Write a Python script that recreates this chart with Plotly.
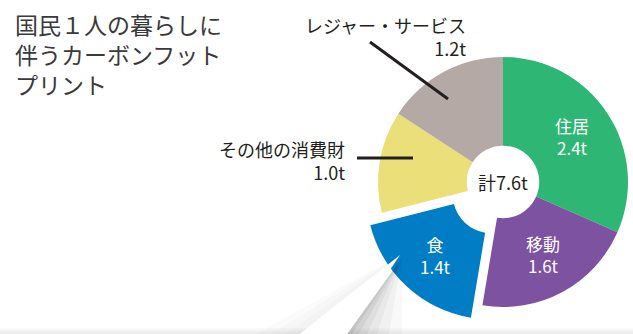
import numpy as np
import plotly.graph_objects as go

# ---- data ----
categories = ["住居", "移動", "食", "その他の消費財", "レジャー・サービス"]
values = [2.4, 1.6, 1.4, 1.0, 1.2]
unit = "t"
pulled_category = "食"
inside_labels = ["住居", "移動", "食"]
outside_labels = ["その他の消費財", "レジャー・サービス"]
title_lines = ["国民１人の暮らしに", "伴うカーボンフット", "プリント"]

# ---- styles ----
colors = ["#2eb774", "#7d52a1", "#007dc5", "#ebdf79", "#b5a9a6"]
W, H = 633, 334
CX, CY, R = 503, 182, 125
PULL_PX = 17
FONT = "Noto Sans CJK JP"
DARK = "#231f20"

total = sum(values)
fracs = np.array(values) / total
ends = np.cumsum(fracs) * 360
starts = ends - fracs * 360
mids = (starts + ends) / 2
idx_p = categories.index(pulled_category)


def domain(cx, cy):
    return dict(x=[(cx - R) / W, (cx + R) / W], y=[(H - cy - R) / H, (H - cy + R) / H])


def pol(cx, cy, r, ang):
    a = np.radians(ang)
    return cx + r * np.sin(a), cy - r * np.cos(a)


pcx, pcy = pol(CX, CY, PULL_PX, mids[idx_p])

tr = "rgba(0,0,0,0)"
colors_a = [tr if c == pulled_category else col for c, col in zip(categories, colors)]
colors_b = [col if c == pulled_category else tr for c, col in zip(categories, colors)]

fig = go.Figure()
fig.add_trace(go.Pie(labels=categories, values=values, sort=False, direction="clockwise",
                     rotation=0, hole=0.29, marker=dict(colors=colors_a, line=dict(width=0)),
                     textinfo="none", hoverinfo="skip", showlegend=False, domain=domain(CX, CY)))
fig.add_trace(go.Pie(labels=categories, values=values, sort=False, direction="clockwise",
                     rotation=0, hole=0.31, marker=dict(colors=colors_b, line=dict(width=0)),
                     textinfo="none", hoverinfo="skip", showlegend=False, domain=domain(pcx, pcy)))


def X(x):
    return x / W


def Y(y):
    return 1 - y / H


def ann(x, y, text, size, color, xanchor="center", align="center"):
    return dict(x=X(x), y=Y(y), xref="paper", yref="paper", showarrow=False,
                xanchor=xanchor, yanchor="middle", text=text, align=align,
                font=dict(family=FONT, size=size, color=color))


annotations = []
# inside labels
for i, c in enumerate(categories):
    if c in inside_labels:
        ccx, ccy = (pcx, pcy) if c == pulled_category else (CX, CY)
        tx, ty = pol(ccx, ccy, 83, mids[i])
        annotations.append(ann(tx, ty, f"{c}<br>{values[i]:.1f}{unit}", 17, "white"))
# center total
annotations.append(ann(CX, CY, f"計{total:.1f}{unit}", 18, DARK))
# outside labels
out_pos = {"レジャー・サービス": (468, 36.5), "その他の消費財": (347, 160)}
for c in outside_labels:
    x, y = out_pos[c]
    v = values[categories.index(c)]
    annotations.append(ann(x, y, f"{c}<br>{v:.1f}{unit}", 18, DARK, "right", "right"))
# title
annotations.append(ann(13, 53.5, "<br>".join(title_lines), 23, "#3a3a3a", "left", "left"))

shapes = []
# leader lines
shapes.append(dict(type="line", xref="paper", yref="paper", x0=X(370), y0=Y(42), x1=X(448), y1=Y(99),
                   line=dict(color=DARK, width=3)))
shapes.append(dict(type="line", xref="paper", yref="paper", x0=X(357), y0=Y(158), x1=X(413), y1=Y(158),
                   line=dict(color=DARK, width=3)))
# bottom band
for k, a in enumerate([0.025, 0.025, 0.025]):
    shapes.append(dict(type="rect", xref="paper", yref="paper", x0=0, x1=1, y0=0, y1=(6 - 2 * k) / H,
                       fillcolor=f"rgba(0,0,0,{a})", line=dict(width=0), layer="above"))
# pointer shadow (gradient approximated by layers)
T = (400, 255)
Lb = (300, 334)
Rb = (347, 334)


def path(pts):
    return "M " + " L ".join(f"{X(x)},{Y(y)}" for x, y in pts) + " Z"


for w, a in [(55, 0.025), (42, 0.03), (30, 0.035), (20, 0.04), (12, 0.05), (5, 0.06)]:
    shapes.append(dict(type="path", xref="paper", yref="paper",
                       path=path([(T[0] + 2, T[1] + 3), (Rb[0] + w, 334), Rb]),
                       fillcolor=f"rgba(0,0,0,{a})", line=dict(width=0), layer="above"))
for w, a in [(45, 0.015), (30, 0.015), (15, 0.015)]:
    shapes.append(dict(type="path", xref="paper", yref="paper",
                       path=path([T, Lb, (Lb[0] - w, 334)]),
                       fillcolor=f"rgba(0,0,0,{a})", line=dict(width=0), layer="above"))
shapes.append(dict(type="path", xref="paper", yref="paper", path=path([T, Lb, Rb]),
                   fillcolor="white", line=dict(width=0), layer="above"))

fig.update_layout(width=W, height=H, autosize=False, margin=dict(l=0, r=0, t=0, b=0),
                  paper_bgcolor="white", plot_bgcolor="white",
                  annotations=annotations, shapes=shapes)
fig.write_html("out.html")
